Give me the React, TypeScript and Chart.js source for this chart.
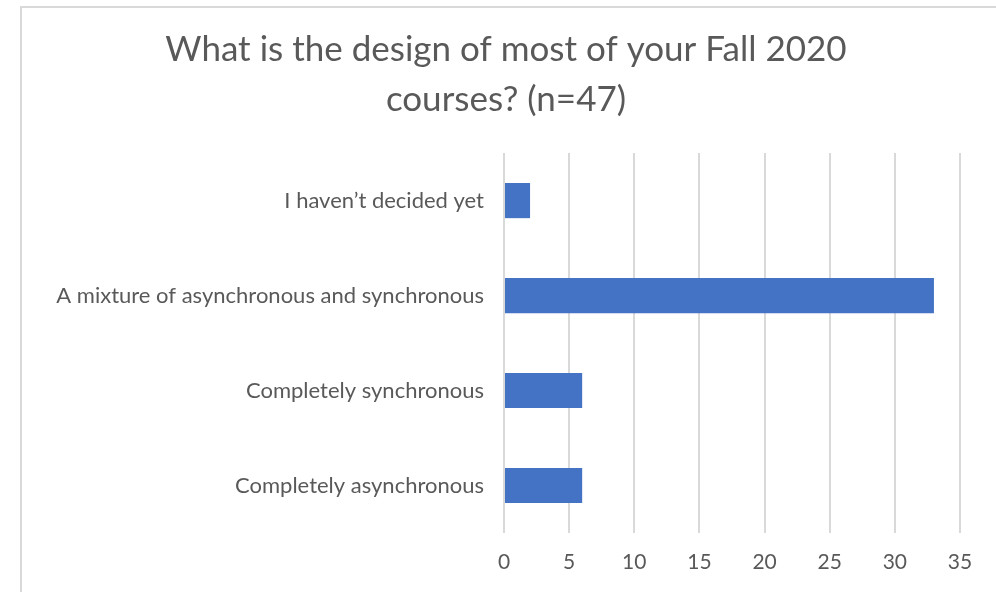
import React, { useEffect, useRef } from "react";
import { Chart, registerables } from "chart.js";

Chart.register(...registerables);

const titleLines = ["What is the design of most of your Fall 2020", "courses? (n=47)"];
const categories = [
  "I haven\u2019t decided yet",
  "A mixture of asynchronous and synchronous",
  "Completely synchronous",
  "Completely asynchronous",
];
const counts = [2, 33, 6, 6];
const axisMin = 0;
const axisMax = 35;
const axisStep = 5;

const TEXT = "#595959";
const GRID = "#d9d9d9";
const BAR = "#4472c4";
const FONT = "Lato, 'Noto Sans', sans-serif";
const PAD_LEFT = 52;

const frame = {
  id: "frame",
  beforeDraw(chart: any) {
    const ctx = chart.ctx;
    ctx.save();
    ctx.fillStyle = "#ffffff";
    ctx.fillRect(0, 0, chart.width, chart.height);
    ctx.strokeStyle = GRID;
    ctx.lineWidth = 2;
    ctx.beginPath();
    ctx.moveTo(21, chart.height);
    ctx.lineTo(21, 7);
    ctx.lineTo(chart.width, 7);
    ctx.stroke();
    ctx.restore();
  },
};

export default function App() {
  const ref = useRef<HTMLCanvasElement>(null);
  useEffect(() => {
    document.body.style.margin = "0";
    const chart = new Chart(ref.current!, {
      type: "bar",
      data: {
        labels: categories,
        datasets: [
          {
            data: counts,
            backgroundColor: BAR,
            borderWidth: 0,
            categoryPercentage: 1,
            barPercentage: 0.37,
          },
        ],
      },
      options: {
        indexAxis: "y",
        animation: false,
        responsive: false,
        devicePixelRatio: 1,
        layout: { padding: { left: PAD_LEFT, right: 36, top: 0, bottom: 0 } },
        plugins: {
          legend: { display: false },
          tooltip: { enabled: false },
          title: {
            display: true,
            text: titleLines,
            color: TEXT,
            font: { family: FONT, size: 35, weight: "normal", lineHeight: 1.43 },
            padding: { top: 25, bottom: 28 },
          },
        },
        scales: {
          x: {
            min: axisMin,
            max: axisMax,
            ticks: {
              stepSize: axisStep,
              color: TEXT,
              font: { family: FONT, size: 21 },
              padding: 17,
            },
            grid: { color: GRID, lineWidth: 2, drawTicks: false },
            border: { display: false },
            afterFit(scale: any) {
              scale.height = 59;
            },
          },
          y: {
            ticks: {
              color: TEXT,
              font: { family: FONT, size: 22 },
              padding: 20,
              autoSkip: false,
            },
            grid: { display: false, drawTicks: false },
            border: { display: false },
            afterFit(scale: any) {
              scale.width = 504 - PAD_LEFT;
            },
          },
        },
      },
      plugins: [frame],
    });
    return () => chart.destroy();
  }, []);
  return <canvas ref={ref} width={996} height={592} style={{ display: "block" }} />;
}
